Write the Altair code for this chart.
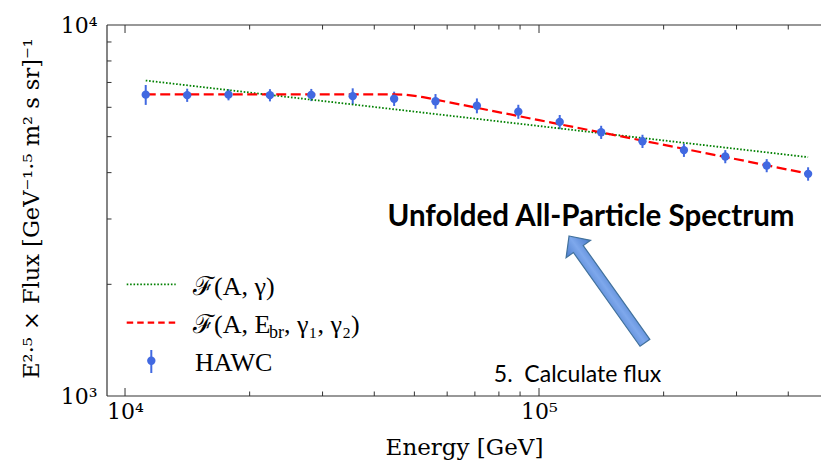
import altair as alt
import pandas as pd

# ---- data ----
energy_gev = [11220, 14130, 17780, 22390, 28180, 35480, 44670, 56230, 70790,
              89130, 112200, 141300, 177800, 223900, 281800, 354800, 446700]
flux = [6490, 6470, 6490, 6470, 6480, 6430, 6330, 6230, 6060,
        5840, 5480, 5140, 4860, 4600, 4420, 4180, 3970]
flux_err = [400, 265, 225, 245, 245, 320, 280, 285, 280,
            255, 240, 210, 200, 190, 180, 170, 165]

bpl_energy = [11220, 44670, 47860, 52480, 56230, 100000, 177800, 316200, 446700]
bpl_value = [6502, 6502, 6481, 6394, 6295, 5540, 4880, 4296, 3974]

pl_energy = [11220, 446700]
pl_value = [7085, 4403]

x_major = [10000, 100000]
x_minor = [20000, 30000, 40000, 50000, 60000, 70000, 80000, 90000,
           200000, 300000, 400000]
y_minor = [2000, 3000, 4000, 5000, 6000, 7000, 8000, 9000]

W, H = 714, 371
BLUE = "#4169E1"
FRAME = "#333333"
SERIF = "DejaVu Serif"

pts = pd.DataFrame({"E": energy_gev, "F": flux,
                    "lo": [f - e for f, e in zip(flux, flux_err)],
                    "hi": [f + e for f, e in zip(flux, flux_err)]})
bpl = pd.DataFrame({"E": bpl_energy, "F": bpl_value})
pl = pd.DataFrame({"E": pl_energy, "F": pl_value})
one = pd.DataFrame({"k": [0]})

xscale = alt.Scale(type="log", domain=[9046, 479900], nice=False)
yscale = alt.Scale(type="log", domain=[1000, 10000], nice=False)

xaxis = alt.Axis(values=x_major, labelExpr="datum.value == 10000 ? '10⁴' : '10⁵'",
                 ticks=False, domain=False, grid=False, labelFlush=False,
                 labelOverlap=False, labelFont=SERIF, labelFontSize=22,
                 labelColor="black", labelPadding=5,
                 title="Energy [GeV]", titleFont=SERIF, titleFontSize=23,
                 titleFontWeight="normal", titleColor="black",
                 titleX=W / 2, titleY=58, titleBaseline="alphabetic")
yaxis = alt.Axis(values=[1000, 10000], labelExpr="datum.value == 1000 ? '10³' : '10⁴'",
                 ticks=False, domain=False, grid=False, labelFlush=False,
                 labelOverlap=False, labelFont=SERIF, labelFontSize=22,
                 labelColor="black", labelPadding=10,
                 title="E²·⁵ × Flux [GeV⁻¹·⁵ m² s sr]⁻¹", titleFont=SERIF,
                 titleFontSize=22.5, titleFontWeight="normal", titleColor="black",
                 titleX=-69, titleY=183, titleBaseline="alphabetic",
                 titleAngle=270, titleAlign="center")


def X(field):
    return alt.X(field, type="quantitative", scale=xscale, axis=xaxis)


def Y(field):
    return alt.Y(field, type="quantitative", scale=yscale, axis=yaxis)


errbars = alt.Chart(pts).mark_rule(color=BLUE, strokeWidth=2).encode(
    x=X("E"), y=Y("lo"), y2="hi")
dots = alt.Chart(pts).mark_circle(size=70, color=BLUE, opacity=1).encode(
    x=X("E"), y=Y("F"))
green = alt.Chart(pl).mark_line(color="#008000", strokeWidth=1.8,
                                strokeDash=[1.6, 1.8]).encode(x=X("E"), y=Y("F"))
red = alt.Chart(bpl).mark_line(color="#ff0000", strokeWidth=2.2,
                               strokeDash=[10, 4.5]).encode(x=X("E"), y=Y("F"))

# frame (left, top, bottom) and inward ticks
frame_left = alt.Chart(one).mark_rule(color=FRAME, strokeWidth=1.2).encode(
    x=alt.value(0), y=alt.value(0), y2=alt.value(H))
frame_top = alt.Chart(one).mark_rule(color=FRAME, strokeWidth=1.2).encode(
    x=alt.value(0), x2=alt.value(W), y=alt.value(0))
frame_bot = alt.Chart(one).mark_rule(color=FRAME, strokeWidth=1.2).encode(
    x=alt.value(0), x2=alt.value(W), y=alt.value(H))

xmaj = pd.DataFrame({"E": x_major})
xmin = pd.DataFrame({"E": x_minor})
ymin = pd.DataFrame({"F": y_minor})
tick_style = dict(color=FRAME, strokeWidth=1)
ticks = [
    alt.Chart(xmaj).mark_rule(**tick_style).encode(x=X("E"), y=alt.value(H), y2=alt.value(H - 8)),
    alt.Chart(xmaj).mark_rule(**tick_style).encode(x=X("E"), y=alt.value(0), y2=alt.value(8)),
    alt.Chart(xmin).mark_rule(**tick_style).encode(x=X("E"), y=alt.value(H), y2=alt.value(H - 4.5)),
    alt.Chart(xmin).mark_rule(**tick_style).encode(x=X("E"), y=alt.value(0), y2=alt.value(4.5)),
    alt.Chart(ymin).mark_rule(**tick_style).encode(y=Y("F"), x=alt.value(0), x2=alt.value(4.5)),
]

# legend
LEG_FONT = "Liberation Serif"
leg = [
    alt.Chart(one).mark_rule(color="#008000", strokeWidth=1.8, strokeDash=[1.6, 1.8]).encode(
        x=alt.value(19.7), x2=alt.value(68.7), y=alt.value(259.3)),
    alt.Chart(one).mark_rule(color="#ff0000", strokeWidth=2.2, strokeDash=[6.5, 4]).encode(
        x=alt.value(19.7), x2=alt.value(68.7), y=alt.value(297.7)),
    alt.Chart(one).mark_rule(color=BLUE, strokeWidth=2).encode(
        x=alt.value(44.3), y=alt.value(325), y2=alt.value(348)),
    alt.Chart(one).mark_circle(size=70, color=BLUE, opacity=1).encode(
        x=alt.value(44.3), y=alt.value(335.7)),
    alt.Chart(one).mark_text(text="ℱ(A, γ)", align="left", baseline="alphabetic",
                             font=LEG_FONT, fontSize=26, color="black").encode(
        x=alt.value(86), y=alt.value(270)),
    alt.Chart(one).mark_text(text="ℱ(A, E", align="left", baseline="alphabetic",
                             font=LEG_FONT, fontSize=26, color="black").encode(
        x=alt.value(86), y=alt.value(308)),
    alt.Chart(one).mark_text(text="br", align="left", baseline="alphabetic",
                             font=LEG_FONT, fontSize=18, color="black").encode(
        x=alt.value(162), y=alt.value(313)),
    alt.Chart(one).mark_text(text=", γ₁, γ₂)", align="left", baseline="alphabetic",
                             font=LEG_FONT, fontSize=26, color="black").encode(
        x=alt.value(177), y=alt.value(308)),
    alt.Chart(one).mark_text(text="HAWC", align="left", baseline="alphabetic",
                             font=LEG_FONT, fontSize=26, color="black").encode(
        x=alt.value(88), y=alt.value(346)),
]

# annotations
arrow_path = ("M0,-1L0.229,-0.756L0.092,-0.756L0.092,1L-0.092,1"
              "L-0.092,-0.756L-0.229,-0.756Z")
arrow_fill = alt.Gradient(
    gradient="linear", x1=0, y1=0, x2=1, y2=0,
    stops=[alt.GradientStop(offset=0, color="#4A7BCB"),
           alt.GradientStop(offset=0.5, color="#7EA8EC"),
           alt.GradientStop(offset=1, color="#4A7BCB")])
annot = [
    alt.Chart(one).mark_point(shape=arrow_path, size=17161, angle=324.6, filled=True,
                              fill=arrow_fill, stroke="#41719C", strokeWidth=1.2,
                              opacity=1).encode(x=alt.value(500), y=alt.value(264.4)),
    alt.Chart(one).mark_text(text="Unfolded All-Particle Spectrum", align="center",
                             baseline="alphabetic", font="Lato", fontWeight="bold",
                             fontSize=29.5, color="black").encode(
        x=alt.value(484), y=alt.value(201)),
    alt.Chart(one).mark_text(text="5.\u00a0 Calculate flux", align="center",
                             baseline="alphabetic", font="Lato", fontSize=23,
                             color="black").encode(
        x=alt.value(470.5), y=alt.value(356.7)),
]

chart = alt.layer(
    errbars, green, red, dots, frame_left, frame_top, frame_bot, *ticks, *leg, *annot
).properties(
    width=W, height=H,
    autosize=alt.AutoSizeParams(type="none"),
    padding={"left": 107, "top": 25, "right": 0, "bottom": 72},
    background="white",
).configure_view(stroke=None)

chart.save("out.html", embed_options={"renderer": "svg", "actions": False})
